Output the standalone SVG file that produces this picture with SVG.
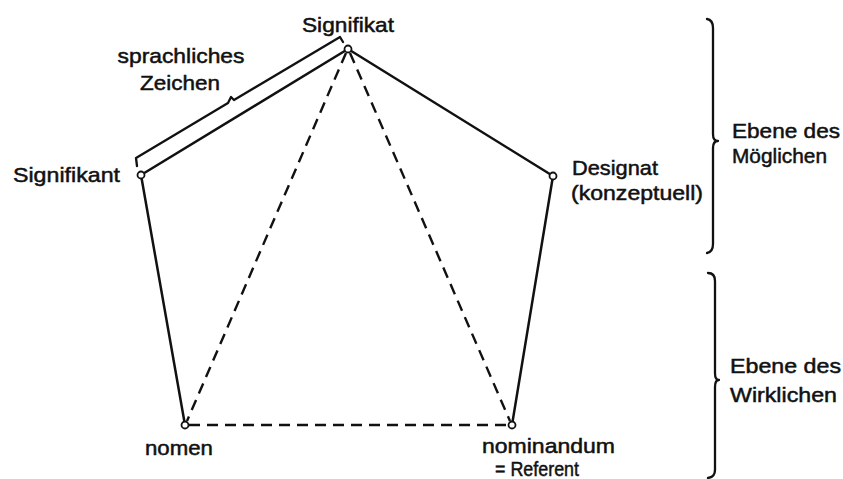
<svg xmlns="http://www.w3.org/2000/svg" width="843" height="479" viewBox="0 0 843 479">
<style>
.t{font-family:"Liberation Sans",Arial,sans-serif;font-size:21px;fill:#111;stroke:#111;stroke-width:0.5}
.s{stroke:#111;stroke-width:2.5;fill:none;stroke-linecap:round}
.d{stroke:#111;stroke-width:2.4;fill:none;stroke-dasharray:11 7}
.n{fill:#fff;stroke:#111;stroke-width:1.8}
.b{stroke:#111;stroke-width:2.3;fill:none;stroke-linecap:round;stroke-linejoin:round}
</style>
<rect width="843" height="479" fill="#fff"/>
<g id="connectors">
<line class="s" x1="141" y1="175" x2="348" y2="49"/>
<line class="s" x1="348" y1="49" x2="553" y2="176"/>
<line class="s" x1="141" y1="175" x2="185" y2="425"/>
<line class="s" x1="553" y1="176" x2="512" y2="425"/>
<line class="d" x1="346" y1="53" x2="187" y2="421"/>
<line class="d" x1="350" y1="53" x2="510" y2="421"/>
<line class="d" x1="189" y1="425" x2="508" y2="425"/>
</g>
<g id="bracket-zeichen">
<path class="b" d="M137,166 L136,158 L228,103 L231,97 L234,100 L340,37 L343,42"/>
<text class="t" x="181" y="63" text-anchor="middle" textLength="127" lengthAdjust="spacingAndGlyphs">sprachliches</text>
<text class="t" x="180" y="90" text-anchor="middle" textLength="80" lengthAdjust="spacingAndGlyphs">Zeichen</text>
</g>
<g id="signifikat">
<circle class="n" cx="348" cy="49" r="3.5"/>
<text class="t" x="348" y="32" text-anchor="middle" textLength="92" lengthAdjust="spacingAndGlyphs">Signifikat</text>
</g>
<g id="signifikant">
<circle class="n" cx="141" cy="175" r="3.5"/>
<text class="t" x="13" y="182" textLength="107" lengthAdjust="spacingAndGlyphs">Signifikant</text>
</g>
<g id="designat">
<circle class="n" cx="553" cy="176" r="3.5"/>
<text class="t" x="572" y="175" textLength="86" lengthAdjust="spacingAndGlyphs">Designat</text>
<text class="t" x="571" y="200" textLength="132" lengthAdjust="spacingAndGlyphs">(konzeptuell)</text>
</g>
<g id="nomen">
<circle class="n" cx="185" cy="425" r="3.5"/>
<text class="t" x="145" y="455" textLength="68" lengthAdjust="spacingAndGlyphs">nomen</text>
</g>
<g id="nominandum">
<circle class="n" cx="512" cy="425" r="3.5"/>
<text class="t" x="482" y="453" textLength="133" lengthAdjust="spacingAndGlyphs">nominandum</text>
<text class="t" x="495" y="476" textLength="84" lengthAdjust="spacingAndGlyphs" font-size="19">= Referent</text>
</g>
<g id="ebene-moeglichen">
<path class="b" d="M707,19 Q713,20 713,28 L713,134 Q713,141 718,141 Q713,141 713,148 L713,244 Q713,252 707,253"/>
<text class="t" x="732" y="138" textLength="108" lengthAdjust="spacingAndGlyphs">Ebene des</text>
<text class="t" x="732" y="163" textLength="95" lengthAdjust="spacingAndGlyphs">Möglichen</text>
</g>
<g id="ebene-wirklichen">
<path class="b" d="M708,273 Q715,273 715,281 L715,373 Q715,380 719,380 Q715,380 715,387 L715,470 Q715,477 708,478"/>
<text class="t" x="730" y="373" textLength="111" lengthAdjust="spacingAndGlyphs">Ebene des</text>
<text class="t" x="730" y="402" textLength="107" lengthAdjust="spacingAndGlyphs">Wirklichen</text>
</g>
</svg>
